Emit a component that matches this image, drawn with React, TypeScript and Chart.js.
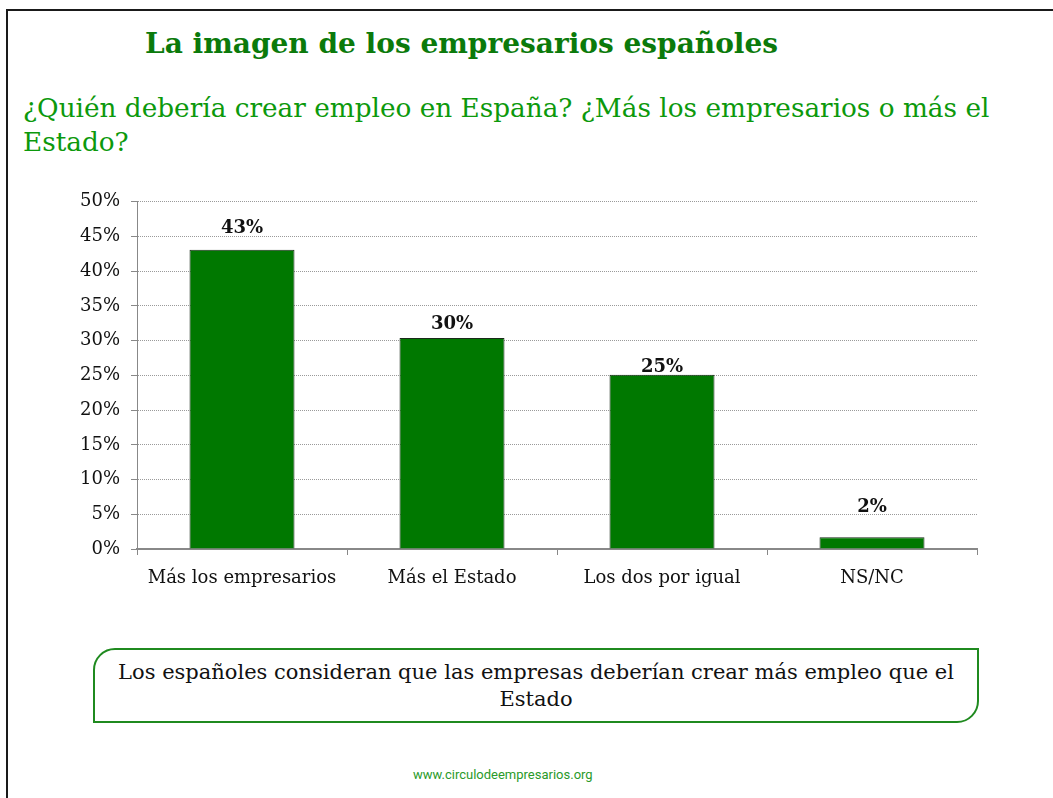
import React, { useEffect, useRef } from "react";
import { Chart, registerables } from "chart.js";

Chart.register(...registerables);

const categories = ["Más los empresarios", "Más el Estado", "Los dos por igual", "NS/NC"];
const values = [43.1, 30.4, 25.1, 1.7];
const tickValues = [0, 5, 10, 15, 20, 25, 30, 35, 40, 45, 50];

const SERIF = "'DejaVu Serif', serif";

const labelPlugin = {
  id: "barLabels",
  afterDatasetsDraw(chart: any, _args: any, opts: any) {
    const ctx = chart.ctx;
    const meta = chart.getDatasetMeta(0);
    const offsets: number[] = opts.offsets || [];
    ctx.save();
    ctx.font = `bold 18px ${SERIF}`;
    ctx.fillStyle = "#111";
    ctx.textAlign = "center";
    ctx.textBaseline = "alphabetic";
    meta.data.forEach((bar: any, i: number) => {
      const v = chart.data.datasets[0].data[i];
      ctx.fillText(`${Math.round(v)}%`, bar.x, bar.y - (offsets[i] ?? 10));
    });
    ctx.restore();
  },
};

function BarChart() {
  const ref = useRef<HTMLCanvasElement | null>(null);
  useEffect(() => {
    if (!ref.current) return;
    const chart = new Chart(ref.current, {
      type: "bar",
      data: {
        labels: categories,
        datasets: [
          {
            data: values,
            backgroundColor: "#007800",
            borderColor: "#1a2a1a",
            borderWidth: 1,
            barPercentage: 1,
            categoryPercentage: 0.5,
          },
        ],
      },
      plugins: [labelPlugin],
      options: {
        responsive: false,
        animation: false,
        layout: { padding: { top: 19, right: 23, left: 0, bottom: 0 } },
        plugins: {
          legend: { display: false },
          tooltip: { enabled: false },
          barLabels: { offsets: [17, 9, 3, 25] },
        } as any,
        scales: {
          x: {
            grid: {
              drawOnChartArea: false,
              drawTicks: true,
              tickLength: 6,
              color: "#888",
              offset: true,
            },
            border: { color: "#888", width: 2 },
            ticks: {
              font: { family: SERIF, size: 18 },
              color: "#111",
              padding: 13,
              maxRotation: 0,
            },
            afterFit: (s: any) => {
              s.height = 51;
            },
          },
          y: {
            min: 0,
            max: 50,
            afterBuildTicks: (s: any) => {
              s.ticks = tickValues.map((v) => ({ value: v }));
            },
            grid: {
              color: "#9a9a9a",
              lineWidth: 1,
              tickBorderDash: [],
              tickColor: "#888",
              tickLength: 6,
              drawTicks: true,
            } as any,
            border: { color: "#888", width: 1, dash: [1, 1] } as any,
            ticks: {
              font: { family: SERIF, size: 18 },
              color: "#111",
              padding: 11,
              callback: (v: any) => `${v}%`,
            },
            afterFit: (s: any) => {
              s.width = 97;
            },
          },
        },
      },
    });
    return () => chart.destroy();
  }, []);
  return (
    <canvas
      ref={ref}
      width={960}
      height={420}
      style={{ position: "absolute", left: 40, top: 180, width: 960, height: 420 }}
    />
  );
}

export default function App() {
  return (
    <div
      style={{
        position: "absolute",
        left: 0,
        top: 0,
        width: 1053,
        height: 798,
        overflow: "hidden",
        background: "#fff",
      }}
    >
      <div
        style={{
          position: "absolute",
          left: 6,
          top: 9,
          width: 1047,
          height: 789,
          borderTop: "2px solid #1a1a1a",
          borderLeft: "2px solid #1a1a1a",
          boxSizing: "border-box",
        }}
      />
      <div
        style={{
          position: "absolute",
          left: 0,
          top: 27,
          width: 923,
          textAlign: "center",
          fontFamily: SERIF,
          fontWeight: "bold",
          fontSize: 28,
          lineHeight: 1.2,
          color: "#0b7a0b",
          whiteSpace: "nowrap",
        }}
      >
        La imagen de los empresarios españoles
      </div>
      <div
        style={{
          position: "absolute",
          left: 23,
          top: 91,
          fontFamily: SERIF,
          fontSize: 26.3,
          lineHeight: "34px",
          color: "#0c990c",
          whiteSpace: "nowrap",
        }}
      >
        ¿Quién debería crear empleo en España? ¿Más los empresarios o más el
        <br />
        Estado?
      </div>
      <BarChart />
      <div
        style={{
          position: "absolute",
          left: 93,
          top: 648,
          width: 886,
          height: 75,
          boxSizing: "border-box",
          border: "2px solid #1f8a1f",
          borderRadius: "22px 0 22px 0",
          paddingTop: 9,
          textAlign: "center",
          fontFamily: SERIF,
          fontSize: 21,
          lineHeight: "27px",
          color: "#111",
          whiteSpace: "nowrap",
        }}
      >
        Los españoles consideran que las empresas deberían crear más empleo que el
        <br />
        Estado
      </div>
      <div
        style={{
          position: "absolute",
          left: 413,
          top: 768,
          fontFamily: "Roboto, sans-serif",
          fontSize: 13,
          lineHeight: "13px",
          color: "#2a9a2a",
          whiteSpace: "nowrap",
        }}
      >
        www.circulodeempresarios.org
      </div>
    </div>
  );
}
